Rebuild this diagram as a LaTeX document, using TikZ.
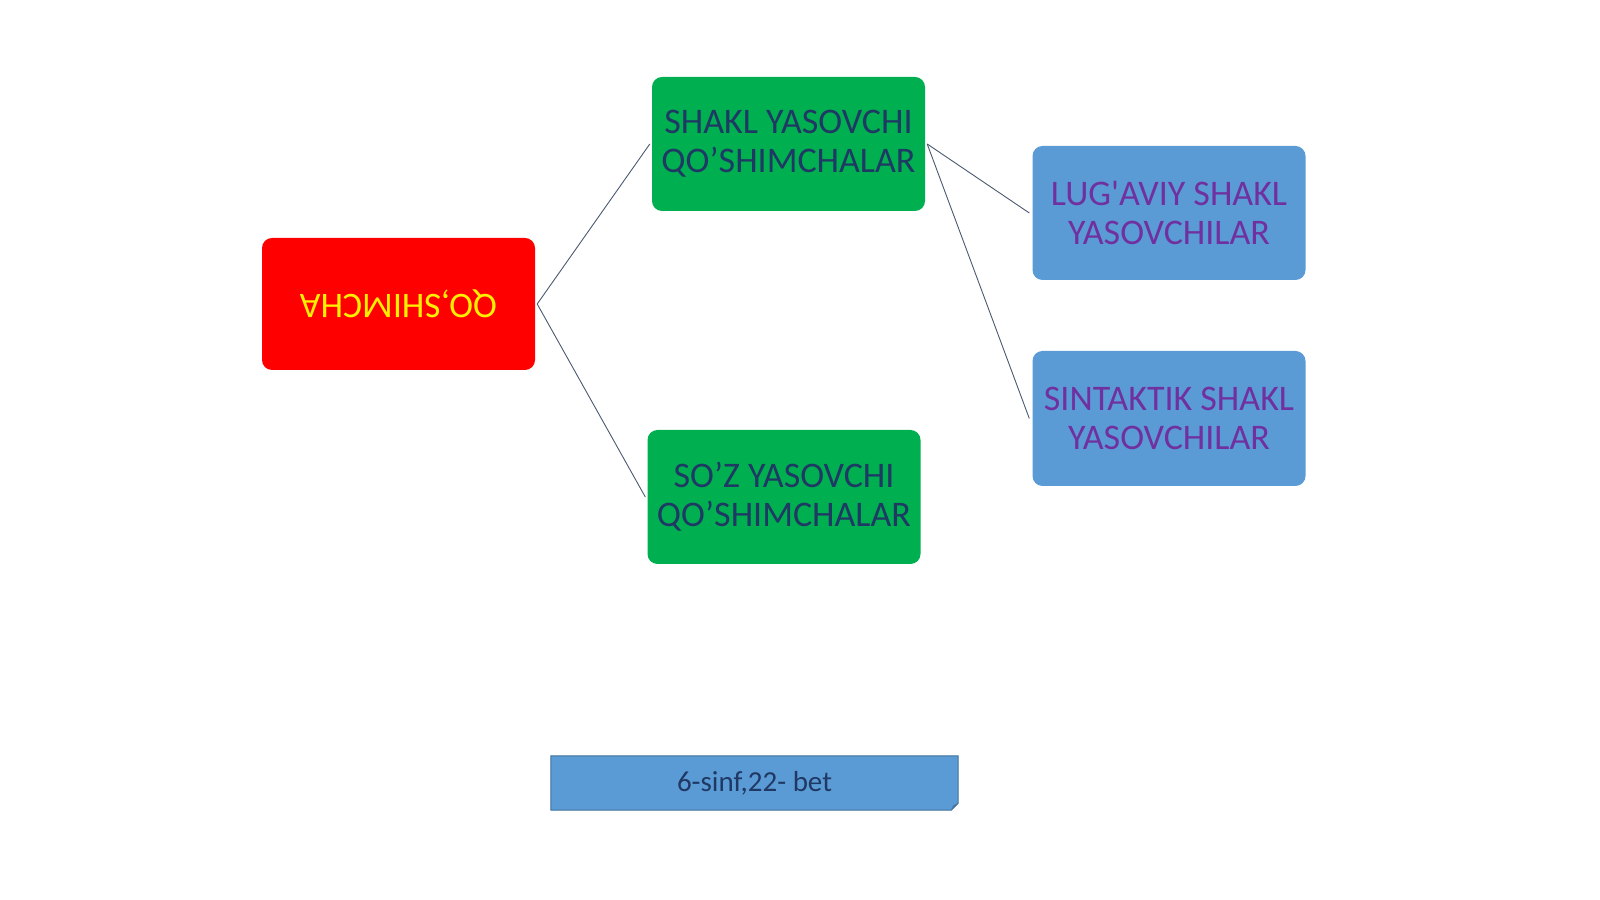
\documentclass[tikz,border=0pt]{standalone}
\usepackage{fontspec}
\setmainfont{Carlito}
\definecolor{boxred}{HTML}{FF0000}
\definecolor{boxgreen}{HTML}{00B050}
\definecolor{boxblue}{HTML}{5B9BD5}
\definecolor{navytext}{HTML}{1F3864}
\definecolor{purpletext}{HTML}{7030A0}
\definecolor{yellowtext}{HTML}{FFF000}
\definecolor{linkgray}{HTML}{4A5A70}
\definecolor{blueedge}{HTML}{41719C}
\begin{document}
\begin{tikzpicture}[x=1pt,y=1pt,
  card/.style={rectangle, rounded corners=10pt, minimum width=273pt, minimum height=134pt, align=center, inner sep=0pt, font=\fontsize{36}{39}\selectfont},
  redcard/.style={card, fill=boxred, text=yellowtext, minimum height=132pt},
  greencard/.style={card, fill=boxgreen, text=navytext},
  bluecard/.style={card, fill=boxblue, text=purpletext},
  link/.style={draw=linkgray, line width=0.9pt},
  notecard/.style={rectangle, minimum width=407pt, minimum height=54pt, inner sep=0pt}
]
\useasboundingbox (0,0) rectangle (1600,899);
\fill[white] (0,0) rectangle (1600,899);

\node[redcard] (root) at (398.5,595) {\rotatebox{180}{QO,SHIMCHA}};
\node[greencard] (shakl) at (788.5,755) {SHAKL YASOVCHI\\QO’SHIMCHALAR};
\node[greencard] (soz) at (784,402) {SO’Z YASOVCHI\\QO’SHIMCHALAR};
\node[bluecard] (lugaviy) at (1169,686) {LUG\textquotesingle AVIY SHAKL\\YASOVCHILAR};
\node[bluecard, minimum height=135pt] (sintaktik) at (1169,480.5) {SINTAKTIK SHAKL\\YASOVCHILAR};

\path[link] ([xshift=2pt]root.east) -- ([xshift=-2pt]shakl.west);
\path[link] ([xshift=2pt]root.east) -- ([xshift=-2pt]soz.west);
\path[link] ([xshift=2pt]shakl.east) -- ([xshift=-3pt]lugaviy.west);
\path[link] ([xshift=2pt]shakl.east) -- ([xshift=-3pt]sintaktik.west);

\node[notecard] (note) at (754.5,116) {};
\fill[boxblue] (note.north west) -- (note.north east) -- ([yshift=7pt]note.south east) -- ([xshift=-7pt]note.south east) -- (note.south west) -- cycle;
\fill[blueedge!80!boxblue] ([yshift=7pt]note.south east) -- ([xshift=-7pt]note.south east) -- ([xshift=-5pt,yshift=5pt]note.south east) -- cycle;
\draw[blueedge, line width=1pt] (note.north west) -- (note.north east) -- ([yshift=7pt]note.south east) -- ([xshift=-7pt]note.south east) -- (note.south west) -- cycle;
\node[text=navytext, font=\fontsize{29}{32}\selectfont] (notetext) at (note.center) {6-sinf,22- bet};
\end{tikzpicture}
\end{document}
